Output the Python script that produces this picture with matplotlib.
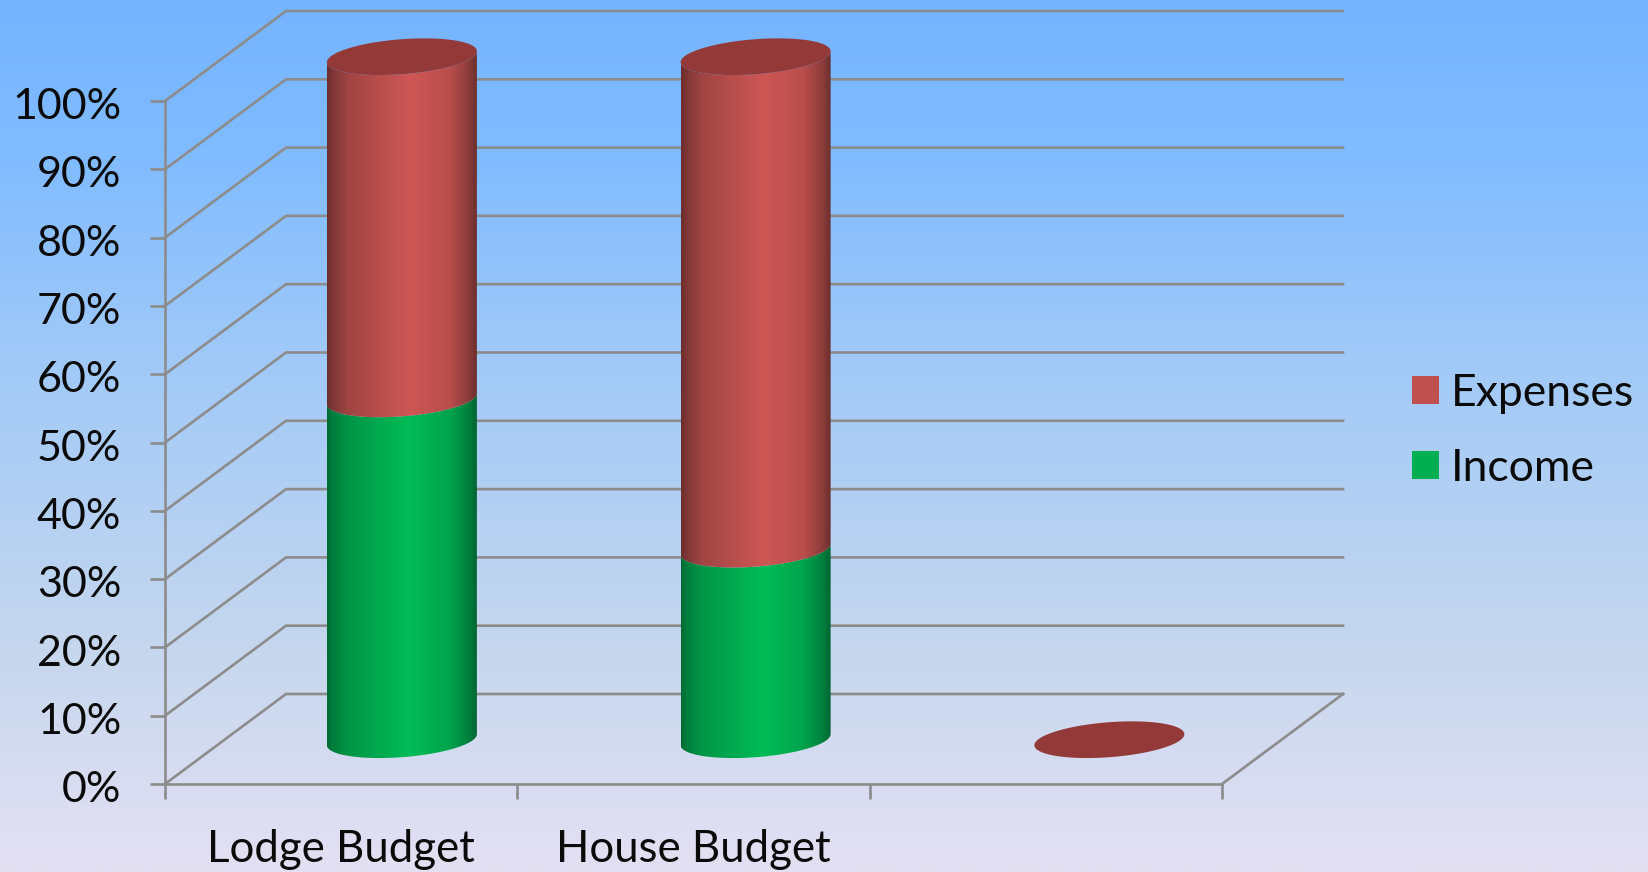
import numpy as np
import matplotlib
matplotlib.use("Agg")
import matplotlib.pyplot as plt
from matplotlib.colors import LinearSegmentedColormap
from matplotlib.patches import Polygon, Patch
from matplotlib.transforms import ScaledTranslation

categories = ["Lodge Budget", "House Budget", ""]
income = [49.9, 27.9, 0]
expenses = [50.1, 72.1, 0]
series_names = ["Expenses", "Income"]
y_ticks = [0, 10, 20, 30, 40, 50, 60, 70, 80, 90, 100]

W, H = 1648, 872
plt.rcParams["font.family"] = ["Lato", "DejaVu Sans"]
fig = plt.figure(figsize=(W / 100, H / 100), dpi=100)

# gradient background
bg = fig.add_axes([0, 0, 1, 1], zorder=0)
bg.axis("off")
bg_cmap = LinearSegmentedColormap.from_list(
    "bg", [(0, "#75B4FF"), (0.17, "#7FBBFF"), (0.41, "#A0C9F8"), (0.75, "#C6D7EE"), (1, "#E4E0F3")])
bg.imshow(np.linspace(0, 1, 512).reshape(-1, 1), aspect="auto", cmap=bg_cmap, extent=[0, 1, 0, 1])

# chart axes: front plane
x0, x1, y0, y1 = 165, 1222, 784, 101
ax = fig.add_axes([x0 / W, 1 - y0 / H, (x1 - x0) / W, (y0 - y1) / H], zorder=1)
ax.patch.set_alpha(0)
ax.set_xlim(0, 3)
ax.set_ylim(0, 100)
px = 3 / (x1 - x0)
py = 100 / (y0 - y1)
dx, dy = 121 * px, 90 * py
GRID = "#8C8C8C"
LW = 1.9

for v in y_ticks:
    ax.plot([0, dx, 3 + dx], [v, v + dy, v + dy], color=GRID, lw=LW, clip_on=False, zorder=1,
            solid_joinstyle="miter")
ax.plot([3, 3 + dx], [0, dy], color=GRID, lw=LW, clip_on=False, zorder=1)

for s in ("top", "right"):
    ax.spines[s].set_visible(False)
for s in ("left", "bottom"):
    ax.spines[s].set_color(GRID)
    ax.spines[s].set_linewidth(LW)
ax.set_yticks(y_ticks)
ax.set_yticklabels([f"{v}%" for v in y_ticks], fontsize=31, color="#0A0A0A")
ax.set_xticks([0, 1, 2, 3])
ax.set_xticklabels([])
ax.set_xticks([0.5, 1.5, 2.5], minor=True)
ax.set_xticklabels(categories, minor=True, fontsize=31.5, color="#0A0A0A")
ax.tick_params(axis="both", which="major", length=10.5, width=LW, color=GRID)
ax.tick_params(axis="y", pad=21)
ax.tick_params(axis="x", which="minor", length=0, pad=32.5)
shift = ScaledTranslation(0, -2.6 / 100, fig.dpi_scale_trans)
for lab in ax.get_yticklabels():
    lab.set_transform(lab.get_transform() + shift)

# cylinders
a = 75 * px
b = 17.5 * py
c = 5.5 * py
t = np.linspace(np.pi, 2 * np.pi, 80)


def front_arc(cx, cy):
    return cx + a * np.cos(t), cy + b * np.sin(t) + c * np.cos(t)


def ellipse(cx, cy):
    tt = np.linspace(0, 2 * np.pi, 160)
    return np.column_stack([cx + a * np.cos(tt), cy + b * np.sin(tt) + c * np.cos(tt)])


stops_red = [(0, "#6B2E2C"), (0.04, "#7F3736"), (0.14, "#A04543"), (0.55, "#CE5755"),
             (0.82, "#B94E4B"), (0.95, "#8A3C3A"), (1, "#6A2E2C")]
stops_green = [(0, "#006B35"), (0.04, "#007F3E"), (0.14, "#009646"), (0.55, "#00BC57"),
               (0.82, "#00A44C"), (0.95, "#007E3D"), (1, "#006432")]
cm_red = LinearSegmentedColormap.from_list("r", stops_red)
cm_green = LinearSegmentedColormap.from_list("g", stops_green)
grad = np.linspace(0, 1, 256).reshape(1, -1)
TOP = "#933A38"


def segment(cx, base, val, cmap, z):
    if val <= 0:
        return
    xa, ya = front_arc(cx, base)
    xb, yb = front_arc(cx, base + val)
    path = Polygon(np.column_stack([np.r_[xa, xb[::-1]], np.r_[ya, yb[::-1]]]),
                   closed=True, transform=ax.transData, fc="none", ec="none", clip_on=False)
    ax.add_patch(path)
    im = ax.imshow(grad, aspect="auto", cmap=cmap, zorder=z,
                   extent=[cx - a, cx + a, base - 2 * b, base + val + 2 * b])
    im.set_clip_box(fig.bbox)
    im.set_clip_path(path)


for i, (inc, exp) in enumerate(zip(income, expenses)):
    cx = (i + 0.5) * 1.004 + dx / 2 - 0.5 * px
    cy = dy / 2 - 0.7 * py
    segment(cx, cy, inc, cm_green, 3)
    segment(cx, cy + inc, exp, cm_red, 3)
    ax.add_patch(Polygon(ellipse(cx, cy + inc + exp), closed=True, fc=TOP, ec="none", zorder=4, clip_on=False))
ax.set_xlim(0, 3)
ax.set_ylim(0, 100)

handles = [Patch(fc="#C0504D", ec="none"), Patch(fc="#00B050", ec="none")]
leg = fig.legend(handles, series_names, loc="upper left", bbox_to_anchor=(1412 / W, 1 - 373 / H),
                 fontsize=32, frameon=False, handlelength=0.6, handleheight=0.6,
                 handletextpad=0.27, labelspacing=0.755, borderpad=0, borderaxespad=0, labelcolor="#0A0A0A")

fig.savefig("out.png", dpi=100)
